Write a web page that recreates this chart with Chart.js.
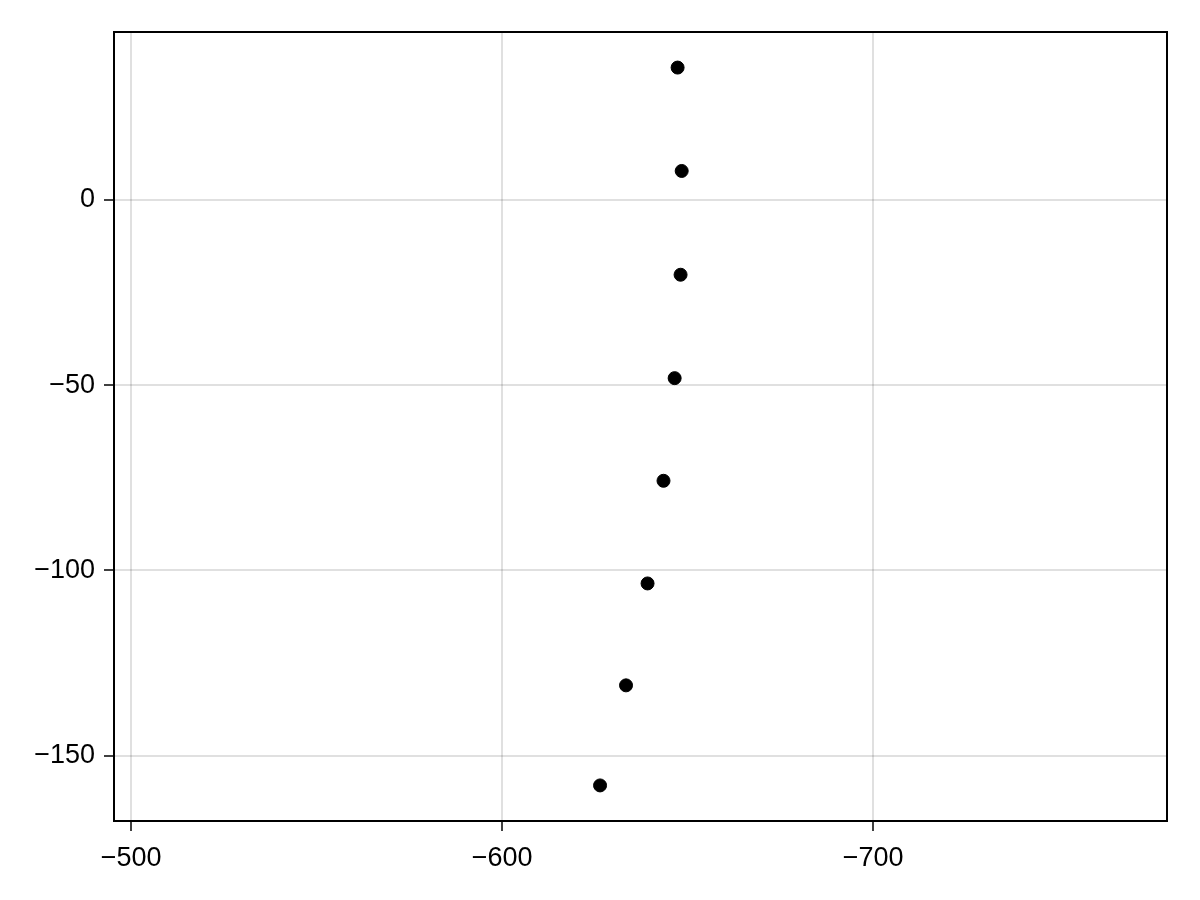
<!DOCTYPE html>
<html>
<head>
<meta charset="utf-8">
<script src="https://cdn.jsdelivr.net/npm/chart.js@4"></script>
<style>
  html, body { margin: 0; padding: 0; background: #fff; }
  #wrap { width: 1200px; height: 900px; }
</style>
</head>
<body>
<div id="wrap"><canvas id="chart" width="1200" height="900"></canvas></div>
<script>
// --- data ---
const xValues = [-647.3, -648.4, -648.1, -646.5, -643.5, -639.2, -633.4, -626.4];
const yValues = [35.7, 7.8, -20.2, -48.1, -75.8, -103.5, -131.0, -158.0];
const xTicks = [-500, -600, -700];
const yTicks = [0, -50, -100, -150];

const points = xValues.map((x, i) => ({ x: x, y: yValues[i] }));
const fmt = v => (v < 0 ? '\u2212' + Math.abs(v) : String(v));

// frame around the plot area (Makie-style box)
const framePlugin = {
    id: 'frame',
    afterDraw(chart) {
        const a = chart.chartArea;
        const ctx = chart.ctx;
        ctx.save();
        ctx.strokeStyle = '#000';
        ctx.lineWidth = 2;
        ctx.strokeRect(a.left, a.top, a.right - a.left, a.bottom - a.top);
        ctx.restore();
    }
};

const tickFont = { family: 'Liberation Sans, Arial, sans-serif', size: 27 };

new Chart(document.getElementById('chart').getContext('2d'), {
    type: 'scatter',
    data: {
        datasets: [{
            data: points,
            backgroundColor: '#000',
            borderColor: '#000',
            pointRadius: 6.5,
            pointHoverRadius: 6.5
        }]
    },
    options: {
        responsive: false,
        animation: false,
        devicePixelRatio: 1,
        layout: { padding: { top: 32, right: 33, left: 0, bottom: 0 } },
        plugins: { legend: { display: false }, tooltip: { enabled: false } },
        scales: {
            x: {
                type: 'linear',
                reverse: true,
                min: -779.2,
                max: -495.4,
                afterBuildTicks: s => { s.ticks = xTicks.map(v => ({ value: v })); },
                afterFit: s => { s.height = 79; },
                grid: { color: 'rgba(0,0,0,0.12)', lineWidth: 2, tickColor: '#000', tickWidth: 1.5, tickLength: 10, drawTicks: true },
                border: { display: false },
                ticks: {
                    color: '#000',
                    padding: 11,
                    font: tickFont,
                    callback: v => fmt(v)
                }
            },
            y: {
                type: 'linear',
                min: -167.6,
                max: 45.3,
                afterBuildTicks: s => { s.ticks = yTicks.map(v => ({ value: v })); },
                afterFit: s => { s.width = 114; },
                grid: { color: 'rgba(0,0,0,0.12)', lineWidth: 2, tickColor: '#000', tickWidth: 1.5, tickLength: 10, drawTicks: true },
                border: { display: false },
                ticks: {
                    color: '#000',
                    padding: 9,
                    font: tickFont,
                    callback: v => fmt(v)
                }
            }
        }
    },
    plugins: [framePlugin]
});
</script>
</body>
</html>
